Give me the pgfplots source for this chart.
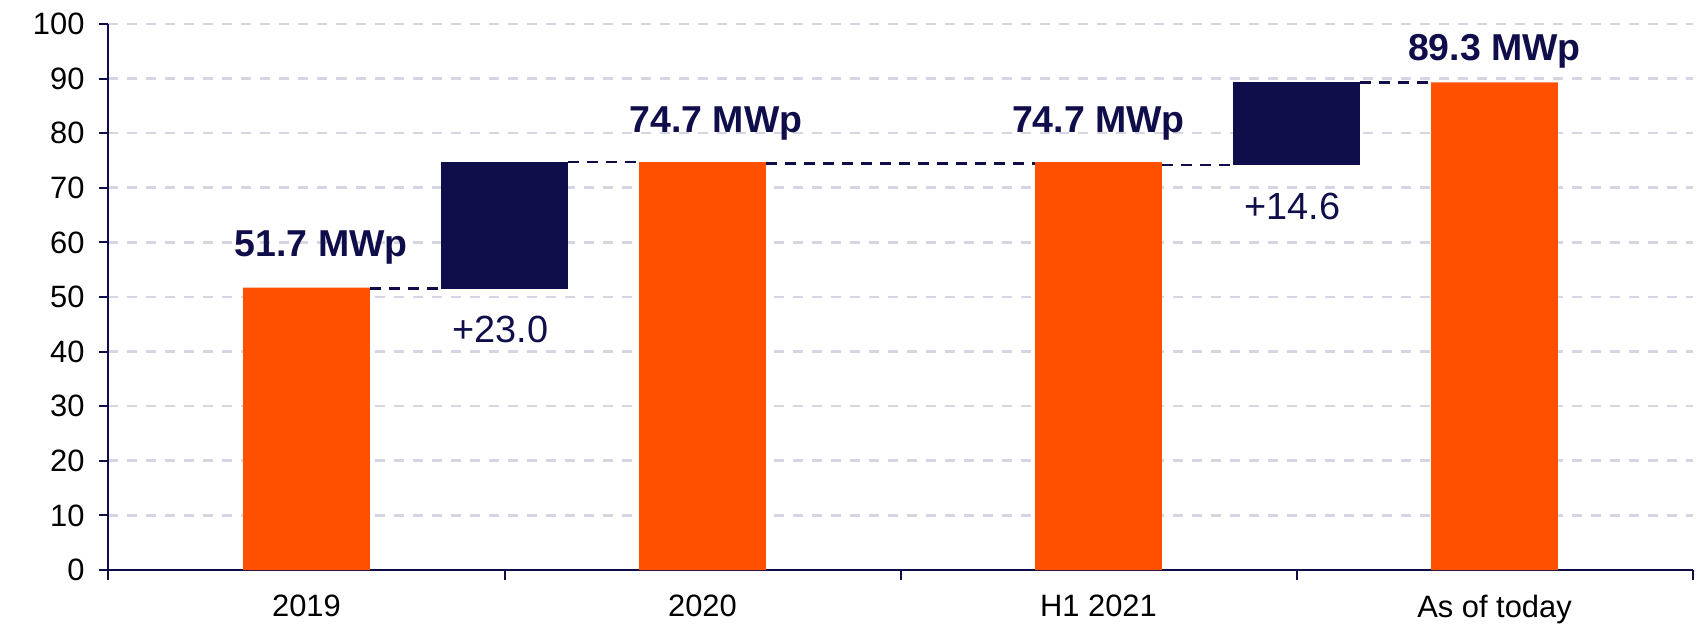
\documentclass[border=0pt]{standalone}
\usepackage{pgfplots}
\pgfplotsset{compat=1.18}
\usepackage{fontspec}
\setmainfont{Liberation Sans}
\definecolor{myorange}{HTML}{FF5000}
\definecolor{mynavy}{HTML}{0F0E4A}
\definecolor{mygrid}{HTML}{D6D5E2}
\begin{document}
\begin{tikzpicture}
\useasboundingbox (-54.25bp,-28bp) rectangle (796.75bp,285bp);
\begin{axis}[
  at={(0,0)}, anchor=south west,
  scale only axis, width=792bp, height=273bp,
  xmin=-0.5, xmax=3.5, ymin=0, ymax=100,
  axis lines=left,
  axis line style={-, draw=mynavy, line width=1bp},
  tick align=outside,
  tick style={draw=mynavy, line width=1bp},
  major tick length=4.5bp, minor tick length=5bp,
  ytick={0,10,...,100},
  xtick={0,1,2,3},
  xticklabels={2019,2020,H1 2021,As of today},
  major x tick style={draw=none},
  minor xtick={-0.5,0.5,1.5,2.5,3.5},
  ymajorgrids,
  major grid style={draw=mygrid, line width=1.3bp, dash pattern=on 5bp off 4.5bp},
  /pgf/number format/assume math mode=true,
  ticklabel style={font=\fontsize{15.5}{17}\selectfont, text=black},
  yticklabel style={xshift=-4bp},
  xticklabel style={yshift=-4.5bp},
  clip=false,
]
\addplot[ybar, bar width=0.32, fill=myorange, draw=none]
  coordinates {(0,51.7) (1,74.7) (2,74.7) (3,89.3)};
\addplot[fill=mynavy, draw=none]
  coordinates {(0.34,51.4) (0.66,51.4) (0.66,74.7) (0.34,74.7)} --cycle;
\addplot[fill=mynavy, draw=none]
  coordinates {(2.34,74.1) (2.66,74.1) (2.66,89.3) (2.34,89.3)} --cycle;
\addplot[mynavy, line width=1.3bp, dash pattern=on 5.5bp off 4bp]
  coordinates {(0.16,51.6) (0.34,51.6)};
\addplot[mynavy, line width=1.3bp, dash pattern=on 5.5bp off 4bp]
  coordinates {(0.66,74.7) (0.84,74.7)};
\addplot[mynavy, line width=1.3bp, dash pattern=on 5.5bp off 4bp]
  coordinates {(1.16,74.4) (1.84,74.4)};
\addplot[mynavy, line width=1.3bp, dash pattern=on 5.5bp off 4bp]
  coordinates {(2.16,74.2) (2.34,74.2)};
\addplot[mynavy, line width=1.3bp, dash pattern=on 5.5bp off 4bp]
  coordinates {(2.66,89.3) (2.84,89.3)};
\begin{scope}[every node/.style={text=mynavy, anchor=base}]
\node[font=\bfseries\fontsize{18.8}{21}\selectfont] at (axis cs:0.037,57.5) {51.7 MWp};
\node[font=\bfseries\fontsize{18.8}{21}\selectfont] at (axis cs:1.034,80.1) {74.7 MWp};
\node[font=\bfseries\fontsize{18.8}{21}\selectfont] at (axis cs:2.0,80.1) {74.7 MWp};
\node[font=\bfseries\fontsize{18.8}{21}\selectfont] at (axis cs:3.0,93.4) {89.3 MWp};
\node[font=\fontsize{19}{21}\selectfont] at (axis cs:0.49,41.6) {+23.0};
\node[font=\fontsize{19}{21}\selectfont] at (axis cs:2.49,64.2) {+14.6};
\end{scope}
\end{axis}
\end{tikzpicture}
\end{document}
